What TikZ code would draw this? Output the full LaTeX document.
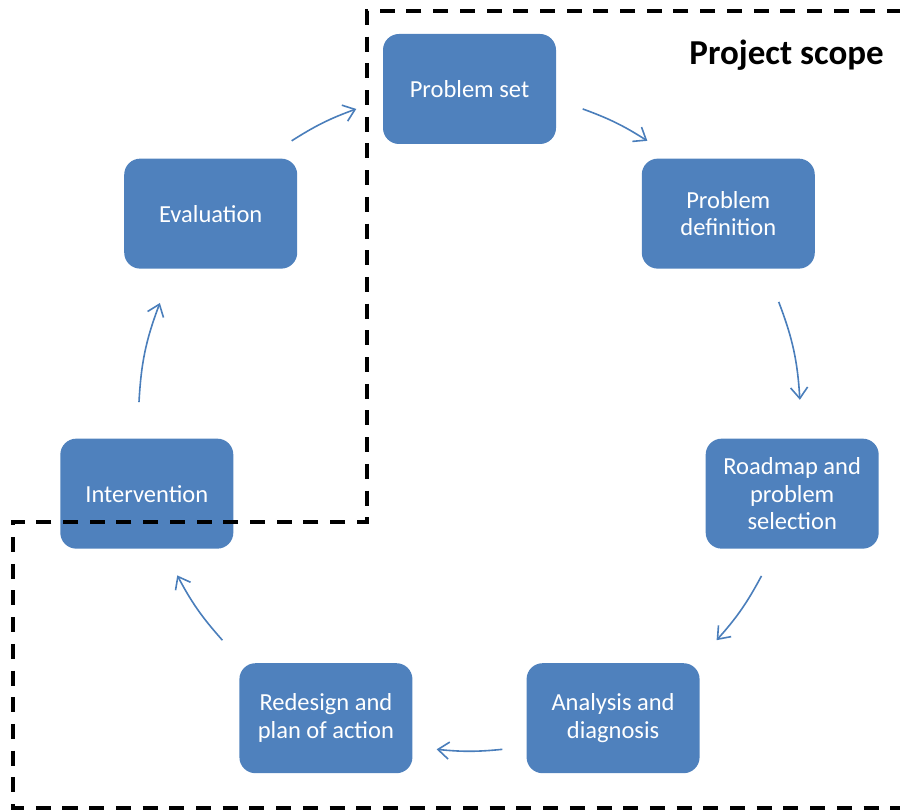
\documentclass[tikz,border=0pt]{standalone}
\usepackage{fontspec}
\setmainfont{Carlito}
\usetikzlibrary{arrows.meta,calc}
\definecolor{boxblue}{HTML}{4F81BD}
\definecolor{arrblue}{HTML}{4A7EBB}
\tikzset{
  stage/.style={fill=boxblue, rounded corners=16pt, minimum width=173pt, minimum height=110pt,
    text=white, align=center, font=\fontsize{24.5pt}{27.5pt}\selectfont, inner sep=0pt},
  arr/.style={draw=arrblue, line width=1.6pt, -{Straight Barb[length=11pt,width=17pt,line width=1.6pt]}},
  scopeline/.style={draw=black, line width=3.5pt, dash pattern=on 15pt off 11.7pt}
}
\begin{document}
\begin{tikzpicture}[x=1pt,y=1pt]
\useasboundingbox (0,0) rectangle (900,811);
\coordinate (O) at (469.5,391);
% stages
\node[stage] (pset) at ($(O)+(90:331)$) {Problem set};
\node[stage] (pdef) at ($(O)+(38.57:331)$) {Problem\\definition};
\node[stage] (road) at ($(O)+(-12.86:331)$) {Roadmap and\\problem\\selection};
\node[stage] (ana)  at ($(O)+(-64.29:331)$) {Analysis and\\diagnosis};
\node[stage] (red)  at ($(O)+(-115.71:331)$) {Redesign and\\plan of action};
\node[stage] (int)  at ($(O)+(-167.14:331)$) {Intervention};
\node[stage] (eval) at ($(O)+(141.43:331)$) {Evaluation};
% arrow end points
\coordinate (a1) at ($(O)+(122.5:331)$);  \coordinate (b1) at ($(O)+(110:331)$);
\coordinate (a2) at ($(O)+(70:331)$);     \coordinate (b2) at ($(O)+(57.5:331)$);
\coordinate (a3) at ($(O)+(20.9:331)$);   \coordinate (b3) at ($(O)+(3.5:331)$);
\coordinate (a4) at ($(O)+(-28.1:331)$);  \coordinate (b4) at ($(O)+(-41.7:331)$);
\coordinate (a5) at ($(O)+(-84.3:331)$);  \coordinate (b5) at ($(O)+(-95.7:331)$);
\coordinate (a6) at ($(O)+(-138.3:331)$); \coordinate (b6) at ($(O)+(-152:331)$);
\coordinate (a7) at ($(O)+(176.9:331)$);  \coordinate (b7) at ($(O)+(159.3:331)$);
\draw[arr] (a1) to[bend left=6.25] (b1);
\draw[arr] (a2) to[bend left=6.25] (b2);
\draw[arr] (a3) to[bend left=8.7] (b3);
\draw[arr] (a4) to[bend left=6.8] (b4);
\draw[arr] (a5) to[bend left=5.7] (b5);
\draw[arr] (a6) to[bend left=6.85] (b6);
\draw[arr] (a7) to[bend left=8.8] (b7);
% project scope boundary
\draw[scopeline] (902,800) -- (367,800) -- (367,289) -- (13,289) -- (13,3) -- (902,3);
\node[anchor=base east, inner sep=0pt, font=\fontsize{35pt}{40pt}\selectfont\bfseries] (title) at (884,746) {Project scope};
\end{tikzpicture}
\end{document}
